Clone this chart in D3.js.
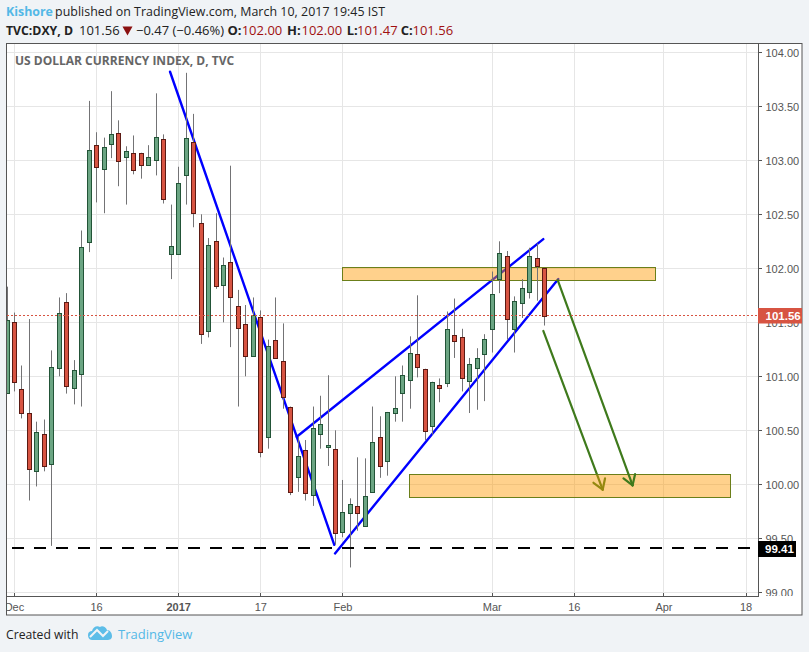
<!DOCTYPE html>
<html><head><meta charset="utf-8">
<script src="https://cdn.jsdelivr.net/npm/d3@7/dist/d3.min.js"></script>
<style>html,body{margin:0;padding:0;background:#f0f3f6}svg{display:block}</style>
</head><body><svg id="c" width="809" height="652"></svg>
<script>
// OHLC, one entry per trading day, starting 30 Nov 2016
const opens =[100.85,101.50,100.88,100.66,100.12,100.47,100.19,101.08,101.69,100.89,101.02,102.24,103.14,102.92,103.15,103.25,103.03,103.07,103.07,102.96,103.00,103.20,102.13,102.13,102.86,103.17,102.42,101.42,102.25,101.85,102.06,101.65,101.48,101.19,101.55,100.44,101.34,101.14,100.72,100.07,100.32,99.90,100.47,100.35,100.33,99.56,99.73,99.80,99.61,99.93,100.44,100.22,100.66,100.85,100.97,101.21,101.07,100.54,100.92,100.94,101.38,101.36,100.96,101.08,101.21,101.44,101.90,102.11,101.44,101.68,101.78,102.10,102.00];
const highs =[101.83,101.59,101.10,101.53,100.58,100.60,101.24,101.73,101.77,101.15,102.35,103.55,103.26,103.21,103.64,103.37,103.13,103.23,103.07,103.14,103.62,103.24,102.59,102.94,103.81,103.43,102.50,102.28,102.51,102.10,102.95,101.80,101.66,101.73,101.61,101.34,101.73,101.49,100.72,100.44,100.41,100.72,100.82,101.01,100.50,100.04,99.87,100.25,100.24,100.72,100.63,100.67,101.00,101.10,101.37,101.75,101.07,100.95,100.98,101.60,101.72,101.44,101.17,101.26,101.39,101.97,102.25,102.16,101.74,101.90,102.19,102.23,102.00];
const lows  =[100.85,100.86,100.61,99.85,99.98,100.12,99.43,101.00,100.84,100.74,100.72,102.15,102.61,102.51,103.02,102.76,102.59,102.87,102.83,102.96,102.86,102.60,101.90,102.13,102.59,102.38,101.30,101.36,101.81,101.50,101.27,100.72,101.00,101.19,100.25,100.33,101.17,100.70,99.90,99.93,99.85,99.80,100.33,100.17,99.44,99.51,99.23,99.57,99.61,99.93,100.06,100.08,100.58,100.58,100.70,100.99,100.41,100.46,100.76,100.90,101.17,100.86,100.66,100.69,100.77,101.22,101.77,101.34,101.22,101.54,101.72,101.70,101.47];
const closes=[101.52,100.95,100.66,100.14,100.48,100.17,101.09,101.59,100.91,101.06,102.20,103.10,102.94,103.12,103.24,102.99,103.09,102.91,102.96,103.03,103.22,102.64,102.21,102.79,103.21,102.51,101.39,102.22,101.84,102.03,101.73,101.45,101.19,101.57,100.30,101.28,101.17,100.81,99.93,100.26,99.92,100.52,100.56,100.36,99.55,99.74,99.82,99.73,99.89,100.39,100.17,100.67,100.71,101.01,101.22,101.09,100.49,100.95,100.89,101.44,101.33,100.98,101.11,101.17,101.35,101.76,102.14,101.53,101.70,101.82,102.11,102.02,101.56];

const priceTicks=[99,99.5,100,100.5,101,101.5,102,102.5,103,103.5,104];
const timeTickIdx=[1,12,23,34,45,65,76,88,99];
const timeTickLbl=["Dec","16","2017","17","Feb","Mar","16","Apr","18"];
const lastPrice=101.56, supportLevel=99.41;

// drawings: [bar index, price]
const lineDown=[[21.84,103.82],[43.84,99.44]];
const lineUpper=[[38.81,100.44],[71.84,102.27]];
const lineLower=[[43.94,99.36],[73.85,101.90]];
const zoneUpper=[[44.9,102.01],[86.85,101.89]];
const zoneLower=[[53.9,100.09],[96.9,99.88]];
const arrowA=[[71.84,101.42],[79.79,99.95]];
const arrowB=[[73.77,101.89],[83.8,99.99]];

const W=809,H=652,L=7,T=44,R=758,B=596,FR=802,FB=615;
const svg=d3.select("#c");
const sans="'Liberation Sans',Arial,sans-serif", ui="'Open Sans',sans-serif";
const x=d3.scaleLinear().domain([0,72]).range([7,544.5]);
const y=d3.scaleLinear().domain([99,104]).range([592.3,52.3]);
const crisp=v=>Math.round(v-0.5)+0.5;

svg.append("rect").attr("x",6.5).attr("y",43.5).attr("width",FR-6.5).attr("height",FB-43.5).attr("fill","#fff").attr("stroke","#555");
const defs=svg.append("defs");
defs.append("clipPath").attr("id","p").append("rect").attr("x",L).attr("y",T).attr("width",R-L).attr("height",B-T);
const pane=svg.append("g").attr("clip-path","url(#p)");

pane.selectAll(".gh").data(priceTicks).join("line").attr("x1",L).attr("x2",R).attr("y1",d=>crisp(y(d))).attr("y2",d=>crisp(y(d))).attr("stroke","#e6e6e6");
pane.selectAll(".gv").data(timeTickIdx).join("line").attr("y1",T).attr("y2",B).attr("x1",d=>crisp(x(d))).attr("x2",d=>crisp(x(d))).attr("stroke","#e6e6e6");

svg.append("text").attr("x",15).attr("y",65).attr("font-family",ui).attr("font-size",12).attr("font-weight",700).attr("fill","#666").text("US DOLLAR CURRENCY INDEX, D, TVC");

const GREEN="#6ba583",GEDGE="#225437",RED="#d75442",REDGE="#5b1a13",WICK="#737375";

const seg=(p,col,w)=>pane.append("line").attr("x1",x(p[0][0])).attr("y1",y(p[0][1])).attr("x2",x(p[1][0])).attr("y2",y(p[1][1])).attr("stroke",col).attr("stroke-width",w).attr("stroke-linecap","round");
function arrow(p){
  seg(p,"#3f7a1c",2.2);
  const x0=x(p[0][0]),y0=y(p[0][1]),x1=x(p[1][0]),y1=y(p[1][1]),a=Math.atan2(y1-y0,x1-x0);
  [a+Math.PI*0.82,a-Math.PI*0.82].forEach(t=>pane.append("line").attr("x1",x1).attr("y1",y1).attr("x2",x1+11.5*Math.cos(t)).attr("y2",y1+11.5*Math.sin(t)).attr("stroke","#3f7a1c").attr("stroke-width",2.2).attr("stroke-linecap","round"));
}
function zone(z){
  pane.append("rect").attr("x",crisp(x(z[0][0]))).attr("y",crisp(y(z[0][1]))).attr("width",Math.round(x(z[1][0])-x(z[0][0]))).attr("height",Math.round(y(z[1][1])-y(z[0][1])))
    .attr("fill","#ff9900").attr("fill-opacity",.45).attr("stroke","#6b7f1a");
}
seg(lineDown,"#0000ff",2.4);seg(lineUpper,"#0000ff",2.4);seg(lineLower,"#0000ff",2.4);
zone(zoneUpper);
arrow(arrowA);
zone(zoneLower);
arrow(arrowB);

const bars=pane.append("g");
opens.forEach((o,i)=>{
  const c=closes[i],up=c>=o,cx=crisp(x(i));
  bars.append("line").attr("x1",cx).attr("x2",cx).attr("y1",y(highs[i])).attr("y2",y(lows[i])).attr("stroke",WICK);
  const t=Math.round(y(Math.max(o,c))),b=Math.round(y(Math.min(o,c)));
  bars.append("rect").attr("x",cx-2).attr("width",4).attr("y",t+.5).attr("height",Math.max(1,b-t)).attr("fill",up?GREEN:RED).attr("stroke",up?GEDGE:REDGE);
});

pane.append("line").attr("x1",L).attr("x2",R).attr("y1",crisp(y(lastPrice))).attr("y2",crisp(y(lastPrice))).attr("stroke","#d75442").attr("stroke-dasharray","2 2");
pane.append("line").attr("x1",12).attr("x2",751).attr("y1",y(supportLevel)).attr("y2",y(supportLevel)).attr("stroke","#000").attr("stroke-width",2).attr("stroke-dasharray","12 10");

// axes
svg.append("line").attr("x1",7).attr("x2",R+.5).attr("y1",B+.5).attr("y2",B+.5).attr("stroke","#555");
svg.append("line").attr("x1",R+.5).attr("x2",R+.5).attr("y1",44).attr("y2",B+1).attr("stroke","#555");
const ya=svg.append("g");
priceTicks.forEach(d=>{
  ya.append("line").attr("x1",R+1).attr("x2",R+4).attr("y1",crisp(y(d))).attr("y2",crisp(y(d))).attr("stroke","#555");
});
defs.append("clipPath").attr("id","pa").append("rect").attr("x",R+1).attr("y",44).attr("width",44).attr("height",B-44);
svg.append("g").attr("clip-path","url(#pa)").selectAll("text").data(priceTicks).join("text").attr("x",765.5).attr("y",d=>y(d)+4.7).attr("font-family",sans).attr("font-size",11).attr("fill","#555").text(d=>d.toFixed(2));
const xa=svg.append("g");
timeTickIdx.forEach(d=>{
  xa.append("line").attr("x1",crisp(x(d))).attr("x2",crisp(x(d))).attr("y1",B-3).attr("y2",B).attr("stroke","#555");
});
defs.append("clipPath").attr("id","ta").append("rect").attr("x",7).attr("y",B).attr("width",R-7).attr("height",FB-B);
xa.append("g").attr("clip-path","url(#ta)").selectAll("text").data(timeTickIdx).join("text").attr("x",d=>x(d)).attr("y",611).attr("text-anchor","middle").attr("font-family",sans).attr("font-size",11).attr("font-weight",(d,i)=>timeTickLbl[i]==="2017"?700:400).attr("fill","#555").text((d,i)=>timeTickLbl[i]);

svg.append("rect").attr("x",R).attr("y",308).attr("width",44).attr("height",15.5).attr("fill","#d75442");
svg.append("text").attr("x",765.5).attr("y",320).attr("font-family",sans).attr("font-size",11.5).attr("font-weight",700).attr("fill","#fff").text(lastPrice.toFixed(2));
svg.append("rect").attr("x",R).attr("y",541).attr("width",38).attr("height",16).attr("fill","#000");
svg.append("text").attr("x",765).attr("y",553).attr("font-family",sans).attr("font-size",11.5).attr("font-weight",700).attr("fill","#fff").text(supportLevel.toFixed(2));

// header
svg.append("text").attr("x",6).attr("y",16).attr("font-family",ui).attr("font-size",12.4).attr("font-weight",700).attr("fill","#53b8e6").text("Kishore");
svg.append("text").attr("x",55).attr("y",16).attr("font-family",ui).attr("font-size",12.4).attr("fill","#222").attr("textLength",330).attr("lengthAdjust","spacing").text("published on TradingView.com, March 10, 2017 19:45 IST");
const hdr=svg.append("g").attr("font-family",ui).attr("font-size",13);
hdr.append("text").attr("x",6).attr("y",34.5).attr("font-weight",700).attr("fill","#222").attr("textLength",67).attr("lengthAdjust","spacingAndGlyphs").text("TVC:DXY, D");
hdr.append("text").attr("x",79).attr("y",34.5).attr("fill","#222").text("101.56");
hdr.append("path").attr("d","M122.5 26.5h10l-5 9z").attr("fill","#8a1010");
hdr.append("text").attr("y",34.5).attr("x",136).attr("fill","#222").text("\u22120.47 (\u22120.46%)");
[["O:","102.00",227.5,241.7],["H:","102.00",287,301.5],["L:","101.47",346.7,357],["C:","101.56",400.7,412.5]].forEach(([k,v,px,vx])=>{
  hdr.append("text").attr("x",px).attr("y",34.5).attr("font-weight",700).attr("fill","#222").text(k);
  hdr.append("text").attr("x",vx).attr("y",34.5).attr("fill","#a01010").text(v);
});

// footer
svg.append("text").attr("x",6).attr("y",639).attr("font-family",ui).attr("font-size",12.2).attr("fill","#222").text("Created with");
svg.append("path").attr("d","M88 635 C88 632 90 631 92 631 C93 627 97 625 100 627 C102 625 106 627 107 630 C110 630 112 633 112 636 C112 639 110 640 107 640 L92 640 C89 640 88 637 88 635Z").attr("fill","#5dbde8");
svg.append("path").attr("d","M90 637 L97 630 L103 636 L108 631").attr("fill","none").attr("stroke","#f0f3f6").attr("stroke-width",2);
svg.append("text").attr("x",118).attr("y",639).attr("font-family",ui).attr("font-size",13).attr("fill","#53b8e6").text("TradingView");
</script></body></html>
